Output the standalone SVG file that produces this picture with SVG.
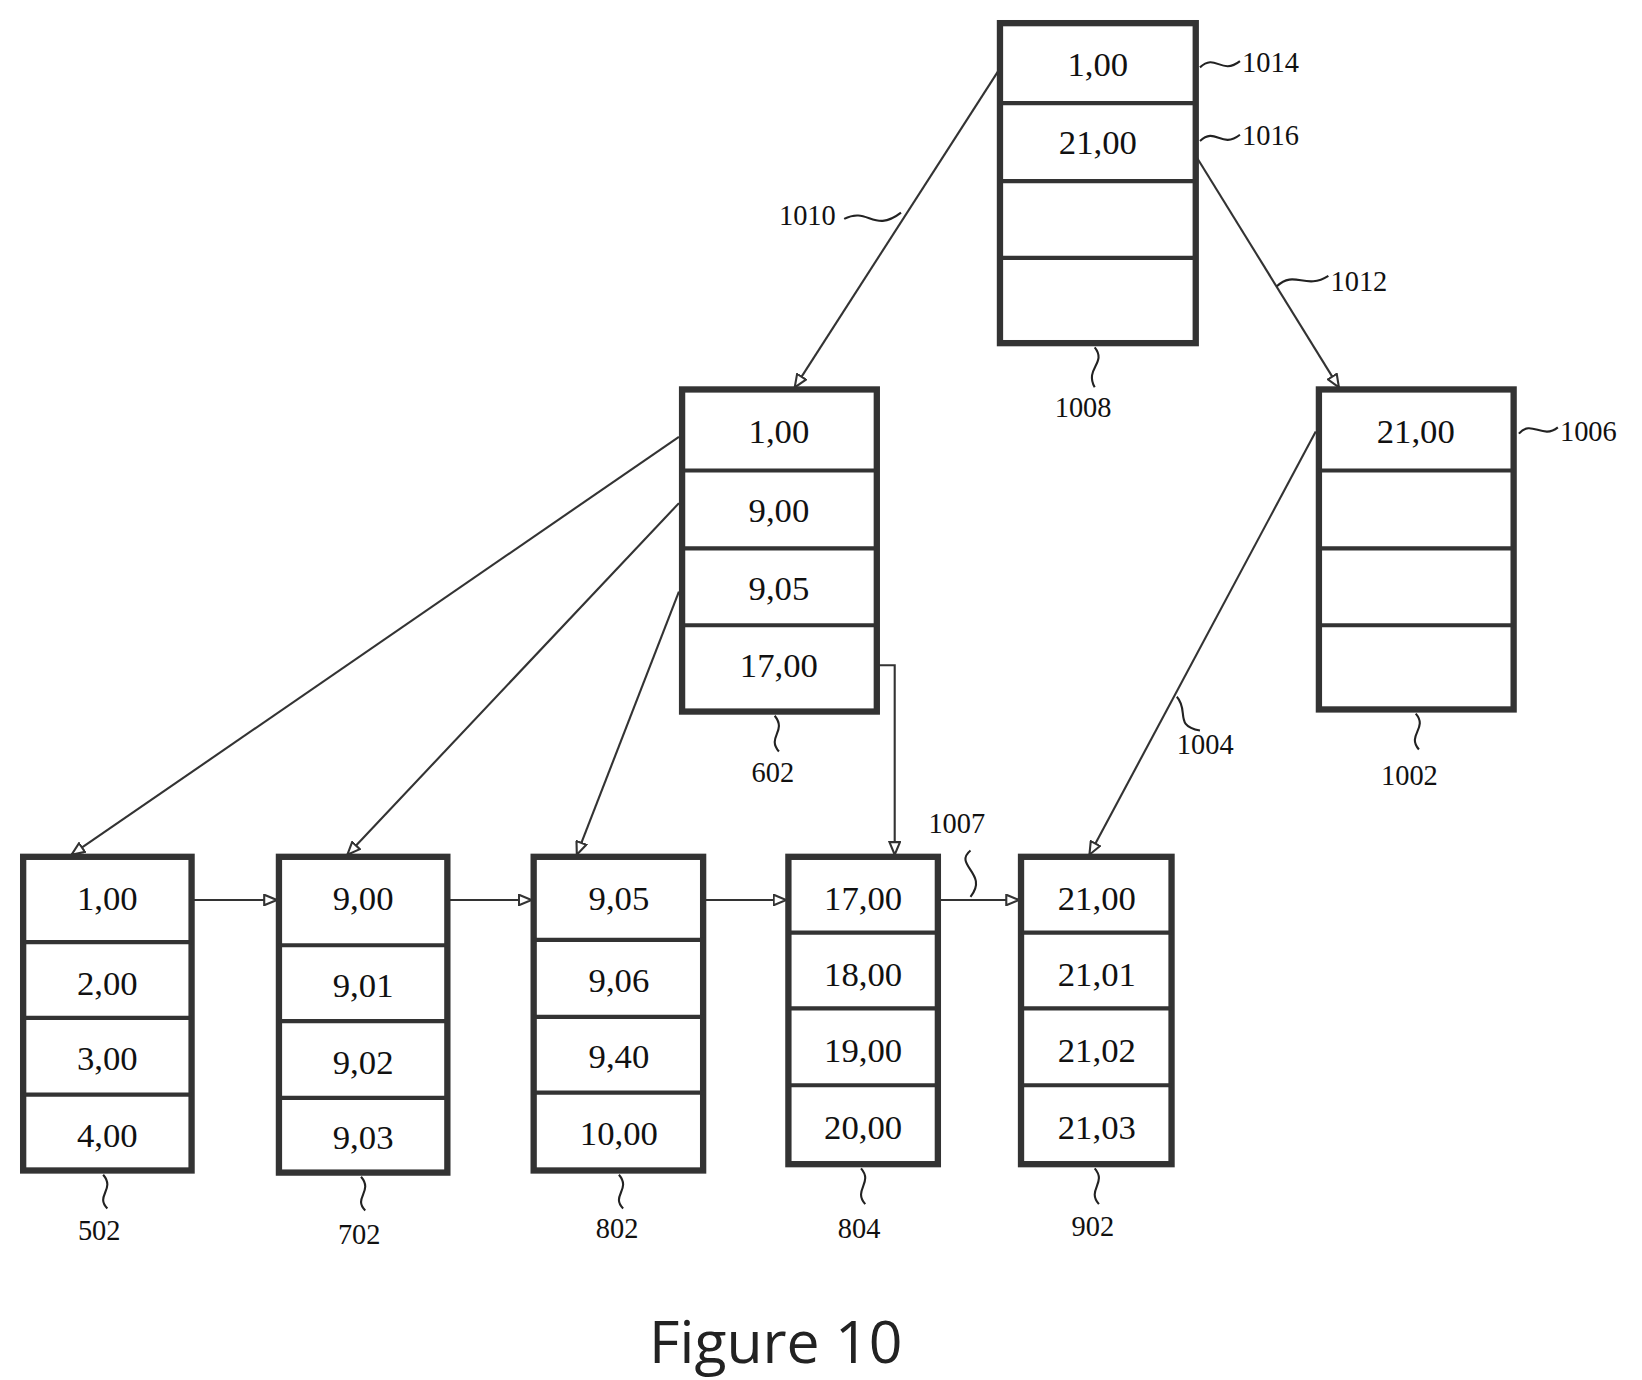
<svg xmlns="http://www.w3.org/2000/svg" width="1642" height="1380" viewBox="0 0 1642 1380">
<style>
.b{fill:#fff;stroke:#333;stroke-width:6}
.r{stroke:#333;stroke-width:4}
.t{font-family:"Liberation Serif",serif;font-size:33px;text-anchor:middle;fill:#111}
.l{font-family:"Liberation Serif",serif;font-size:27px;fill:#111}
.c{fill:none;stroke:#333;stroke-width:2}
.s{fill:none;stroke:#222;stroke-width:2}
</style>
<defs><marker id="a" markerWidth="14" markerHeight="12" refX="13" refY="6" orient="auto" markerUnits="userSpaceOnUse"><path d="M1,1 L13,6 L1,11 Z" fill="#fff" stroke="#333" stroke-width="2"/></marker></defs>
<rect width="1642" height="1380" fill="#fff"/>
<g transform="scale(1.0526)">
<g id="connectors">
<path class="c" marker-end="url(#a)" d="M948,68 L755,368"/>
<path class="c" marker-end="url(#a)" d="M1136,148 L1272,368"/>
<path class="c" marker-end="url(#a)" d="M645,415 L68,812"/>
<path class="c" marker-end="url(#a)" d="M645,478 L330,812"/>
<path class="c" marker-end="url(#a)" d="M645,562 L548,812"/>
<path class="c" marker-end="url(#a)" d="M833,632 L850,632 L850,812"/>
<path class="c" marker-end="url(#a)" d="M1250,410 L1035,812"/>
<path class="c" marker-end="url(#a)" d="M182,855 L263,855"/>
<path class="c" marker-end="url(#a)" d="M425,855 L505,855"/>
<path class="c" marker-end="url(#a)" d="M668,855 L747,855"/>
<path class="c" marker-end="url(#a)" d="M891,855 L968,855"/>
</g>
<g id="n1008"><rect class="b" x="950" y="22" width="186" height="304"/><path class="r" d="M950,98H1136M950,172H1136M950,245H1136"/><text class="t" x="1043" y="72">1,00</text><text class="t" x="1043" y="146">21,00</text></g>
<g id="n602"><rect class="b" x="648" y="370" width="185" height="306"/><path class="r" d="M648,447H833M648,521H833M648,594H833"/><text class="t" x="740" y="421">1,00</text><text class="t" x="740" y="496">9,00</text><text class="t" x="740" y="570">9,05</text><text class="t" x="740" y="643">17,00</text></g>
<g id="n1002"><rect class="b" x="1253" y="370" width="185" height="304"/><path class="r" d="M1253,447H1438M1253,521H1438M1253,594H1438"/><text class="t" x="1345" y="421">21,00</text></g>
<g id="n502"><rect class="b" x="22" y="814" width="160" height="298"/><path class="r" d="M22,895H182M22,967H182M22,1040H182"/><text class="t" x="102" y="865">1,00</text><text class="t" x="102" y="945">2,00</text><text class="t" x="102" y="1017">3,00</text><text class="t" x="102" y="1090">4,00</text></g>
<g id="n702"><rect class="b" x="265" y="814" width="160" height="300"/><path class="r" d="M265,898H425M265,970H425M265,1043H425"/><text class="t" x="345" y="865">9,00</text><text class="t" x="345" y="947">9,01</text><text class="t" x="345" y="1020">9,02</text><text class="t" x="345" y="1092">9,03</text></g>
<g id="n802"><rect class="b" x="507" y="814" width="161" height="298"/><path class="r" d="M507,893H668M507,966H668M507,1038H668"/><text class="t" x="588" y="865">9,05</text><text class="t" x="588" y="942">9,06</text><text class="t" x="588" y="1015">9,40</text><text class="t" x="588" y="1088">10,00</text></g>
<g id="n804"><rect class="b" x="749" y="814" width="142" height="292"/><path class="r" d="M749,886H891M749,958H891M749,1031H891"/><text class="t" x="820" y="865">17,00</text><text class="t" x="820" y="937">18,00</text><text class="t" x="820" y="1009">19,00</text><text class="t" x="820" y="1082">20,00</text></g>
<g id="n902"><rect class="b" x="970" y="814" width="143" height="292"/><path class="r" d="M970,886H1113M970,958H1113M970,1031H1113"/><text class="t" x="1042" y="865">21,00</text><text class="t" x="1042" y="937">21,01</text><text class="t" x="1042" y="1009">21,02</text><text class="t" x="1042" y="1082">21,03</text></g>
<g id="labels">
<path class="s" d="M1140,64 C1155,50 1160,72 1178,58"/><text class="l" x="1180" y="68">1014</text>
<path class="s" d="M1140,134 C1155,120 1160,142 1178,128"/><text class="l" x="1180" y="138">1016</text>
<path class="s" d="M802,208 C825,196 830,222 856,202"/><text class="l" x="740" y="214">1010</text>
<path class="s" d="M1213,272 C1230,256 1240,276 1262,262"/><text class="l" x="1264" y="276">1012</text>
<path class="s" d="M1040,330 C1052,345 1030,350 1040,368"/><text class="l" x="1002" y="396">1008</text>
<path class="s" d="M1443,412 C1455,398 1465,418 1480,406"/><text class="l" x="1482" y="419">1006</text>
<path class="s" d="M736,680 C748,695 728,700 740,714"/><text class="l" x="714" y="743">602</text>
<path class="s" d="M1118,662 C1130,675 1115,690 1140,694"/><text class="l" x="1118" y="716">1004</text>
<path class="s" d="M1345,678 C1357,692 1336,698 1348,712"/><text class="l" x="1312" y="746">1002</text>
<text class="l" x="882" y="791">1007</text><path class="s" d="M922,808 C905,822 940,830 922,852"/>
<path class="s" d="M98,1116 C110,1130 90,1136 102,1148"/><text class="l" x="74" y="1178">502</text>
<path class="s" d="M343,1118 C355,1132 335,1138 347,1150"/><text class="l" x="321" y="1182">702</text>
<path class="s" d="M588,1116 C600,1130 580,1136 592,1148"/><text class="l" x="566" y="1176">802</text>
<path class="s" d="M818,1110 C830,1124 810,1130 822,1144"/><text class="l" x="796" y="1176">804</text>
<path class="s" d="M1040,1110 C1052,1124 1032,1130 1044,1144"/><text class="l" x="1018" y="1174">902</text>
<text x="737" y="1295" font-family="'Open Sans','Noto Sans',sans-serif" font-size="56" text-anchor="middle" fill="#222">Figure 10</text>
</g>
</g>
</svg>
